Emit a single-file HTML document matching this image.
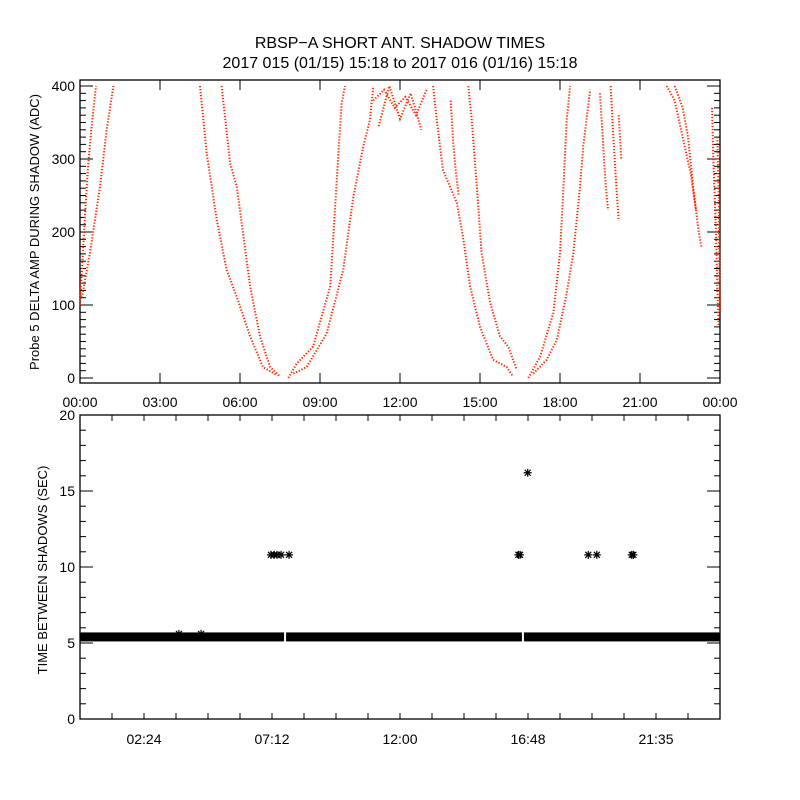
<!DOCTYPE html>
<html><head><meta charset="utf-8"><style>
body{margin:0;background:#fff;}
svg{display:block;font-family:"Liberation Sans",sans-serif;}
</style></head><body>
<svg id="c" width="800" height="800" viewBox="0 0 800 800">
<text x="400" y="48" text-anchor="middle" font-size="16">RBSP−A SHORT ANT. SHADOW TIMES</text>
<text x="400" y="68" text-anchor="middle" font-size="16">2017 015 (01/15) 15:18 to 2017 016 (01/16) 15:18</text>
<text transform="translate(39,232) rotate(-90)" text-anchor="middle" font-size="13">Probe 5 DELTA AMP DURING SHADOW (ADC)</text>
<text transform="translate(47,570) rotate(-90)" text-anchor="middle" font-size="13">TIME BETWEEN SHADOWS (SEC)</text>
<g id="top"></g><g id="bot"></g>
</svg>
<script>
// ---- top chart data ----
const topXTickLabels=["00:00","03:00","06:00","09:00","12:00","15:00","18:00","21:00","00:00"];
const topYTicks=[0,100,200,300,400];
const branchHours=[
 [0,0.15,0.3,0.45,0.6],
 [0.07,0.37,0.75,1.0,1.25],
 [4.5,4.75,5.13,5.5,5.88,6.38,6.86,7.38],
 [5.31,5.63,5.88,6.13,6.38,6.75,7.13,7.5],
 [7.81,8.13,8.74,9.38,9.5,9.69,9.81,9.94],
 [8.0,8.5,9.25,9.87,10.25,10.62,10.87,11.0],
 [11.0,11.4,11.8,12.2,12.6,13.0],
 [11.2,11.6,12.0,12.4,12.8],
 [13.24,13.38,13.61,14.13,14.36,14.63,15.0,15.49,16.0,16.24],
 [13.9,14.0,14.1,14.2],
 [14.56,14.69,14.88,15.06,15.38,15.75,16.06,16.38],
 [16.81,17.25,17.75,18.0,18.13,18.25,18.38],
 [17.0,17.5,17.88,18.25,18.5,18.75,18.87,19.13],
 [19.5,19.6,19.7,19.8],
 [19.9,20.0,20.1,20.2],
 [20.2,20.3],
 [22.0,22.3,22.6,22.9,23.1],
 [22.3,22.6,22.8,23.0,23.2,23.3],
 [23.7,23.75,23.8,23.85,23.9,23.95],
 [23.9,23.95,24.0]
];
const branchValues=[
 [100,200,290,350,400],
 [110,171,262,340,400],
 [400,308,216,148,111,57,15,4],
 [400,294,262,194,125,57,15,2],
 [0,20,43,125,194,308,376,400],
 [6,15,61,148,248,317,353,400],
 [380,395,370,385,360,395],
 [345,400,355,390,340],
 [400,353,285,240,194,125,70,25,15,2],
 [380,320,280,250],
 [400,353,262,171,103,57,43,11],
 [0,29,89,171,262,353,400],
 [6,25,52,116,171,262,317,395],
 [390,330,270,230],
 [400,330,270,215],
 [360,300],
 [400,380,330,280,230],
 [400,370,330,260,200,180],
 [370,300,250,200,120,70],
 [330,250,90]
];
// ---- bottom chart data ----
const botXTickLabels=["02:24","07:12","12:00","16:48","21:35"];
const botXTickHours=[2.4,7.2,12,16.8,21.6];
const botYTicks=[0,5,10,15,20];
const baseInterval=5.4;
const gapHours=[7.69,16.61];
const starHours=[7.16,7.28,7.39,7.54,7.84,16.44,16.5,16.79,19.06,19.38,20.69,20.75,3.71,4.54];
const starValues=[10.8,10.8,10.8,10.8,10.8,10.8,10.8,16.2,10.8,10.8,10.8,10.8,5.6,5.6];

const NS="http://www.w3.org/2000/svg";
function mk(p,t,a){const e=document.createElementNS(NS,t);for(const k in a)e.setAttribute(k,a[k]);p.appendChild(e);return e;}
const L=80,R=720;
const xs=h=>L+h/24*(R-L);
// top
const T=document.getElementById('top');
const yt=v=>378-v*0.73;
let bx=mk(T,'rect',{x:L,y:80,width:R-L,height:303,fill:'none',stroke:'#000','stroke-width':1.3});

for(let v=0;v<=400;v+=10){const len=v%100===0?13:6;
 mk(T,'line',{x1:L,x2:L+len,y1:yt(v),y2:yt(v),stroke:'#000'});
 mk(T,'line',{x1:R,x2:R-len,y1:yt(v),y2:yt(v),stroke:'#000'});}
topYTicks.forEach(v=>{const t=mk(T,'text',{x:75,y:yt(v)+5,'text-anchor':'end','font-size':14});t.textContent=v;
 });
topXTickLabels.forEach((s,i)=>{const x=xs(i*3);
 mk(T,'line',{x1:x,x2:x,y1:383,y2:373,stroke:'#000'});mk(T,'line',{x1:x,x2:x,y1:80,y2:90,stroke:'#000'});
 const t=mk(T,'text',{x:x,y:407,'text-anchor':'middle','font-size':14});t.textContent=s;
 });
branchHours.forEach((hs,i)=>{const pts=hs.map((h,j)=>xs(h)+','+yt(branchValues[i][j])).join(' ');
 const p=mk(T,'polyline',{points:pts,fill:'none',stroke:'#ff2a00','stroke-width':2,'stroke-dasharray':'1.3 1.7'});
 });
// bottom
const B=document.getElementById('bot');
const yb=v=>719-v*15.2;
bx=mk(B,'rect',{x:L,y:415,width:R-L,height:304,fill:'none',stroke:'#000','stroke-width':1.3});

for(let v=0;v<=20;v++){const len=v%5===0?13:6;
 mk(B,'line',{x1:L,x2:L+len,y1:yb(v),y2:yb(v),stroke:'#000'});mk(B,'line',{x1:R,x2:R-len,y1:yb(v),y2:yb(v),stroke:'#000'});}
botYTicks.forEach(v=>{const t=mk(B,'text',{x:75,y:yb(v)+5,'text-anchor':'end','font-size':14});t.textContent=v;
 });
for(let h=0;h<=24;h+=1.2){const x=xs(h);mk(B,'line',{x1:x,x2:x,y1:719,y2:713,stroke:'#000'});mk(B,'line',{x1:x,x2:x,y1:415,y2:421,stroke:'#000'});}
botXTickLabels.forEach((s,i)=>{const t=mk(B,'text',{x:xs(botXTickHours[i]),y:744,'text-anchor':'middle','font-size':14});t.textContent=s;
 });
const edges=[0,...gapHours,24];
for(let i=0;i<edges.length-1;i++){const x1=xs(edges[i])+(i?1:0),x2=xs(edges[i+1])-(i<edges.length-2?1:0);
 const r=mk(B,'rect',{x:x1,y:yb(baseInterval)-4.5,width:x2-x1,height:9,fill:'#000'});
 }
starHours.forEach((h,i)=>{const x=xs(h),y=yb(starValues[i]),r=4;
 const d=`M${x-r},${y}H${x+r}M${x},${y-r}V${y+r}M${x-3},${y-3}L${x+3},${y+3}M${x-3},${y+3}L${x+3},${y-3}`;
 const g=mk(B,'path',{d:d,stroke:'#000','stroke-width':1.2,fill:'none'});
 
 });
</script>
</body></html>
